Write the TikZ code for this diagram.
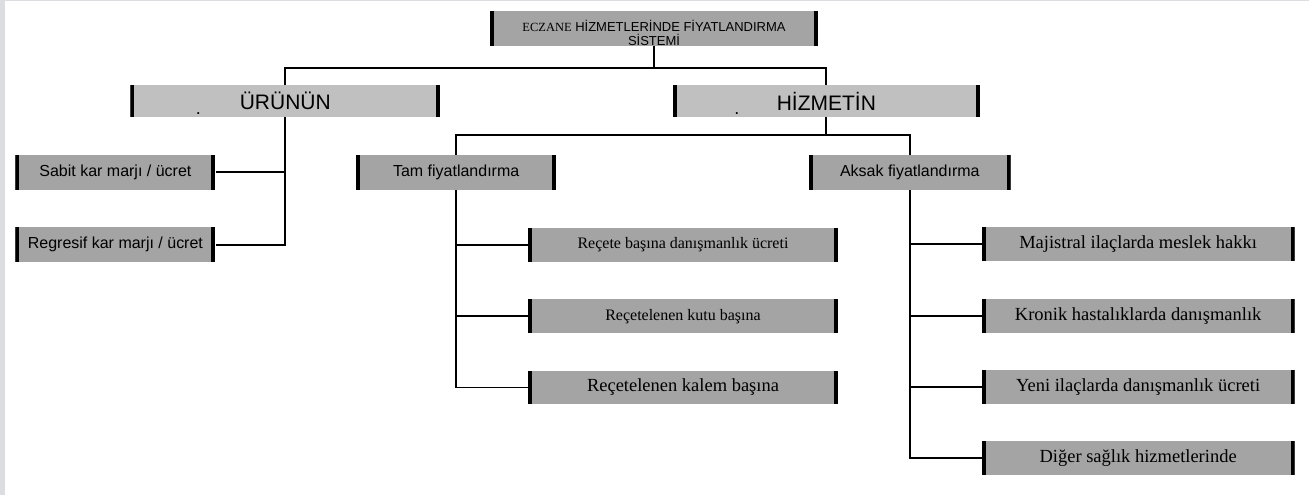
\documentclass[tikz,border=0pt]{standalone}
\usepackage{fontspec}
\setmainfont{Liberation Serif}
\setsansfont{Liberation Sans}
\usepackage{xcolor}
\usepackage{tikz}
\usetikzlibrary{positioning}

\definecolor{darkfill}{RGB}{164,164,164}
\definecolor{lightfill}{RGB}{192,192,192}
\definecolor{edgegray}{RGB}{220,221,224}

\begin{document}
\begin{tikzpicture}[
    x=1pt, y=-1pt,
    node distance=37pt and 0pt,
    box/.style={rectangle, fill=darkfill, inner sep=0pt, align=center, minimum height=34pt,
        path picture={
            \fill[black] (path picture bounding box.south west) rectangle ([xshift=4pt]path picture bounding box.north west);
            \fill[black] (path picture bounding box.south east) rectangle ([xshift=-4pt]path picture bounding box.north east);
        }},
    topbox/.style={box, minimum width=328pt, minimum height=33pt, font=\sffamily\fontsize{13}{14.5}\selectfont},
    levelbox/.style={box, fill=lightfill, minimum width=310pt, minimum height=32pt, font=\sffamily\fontsize{21}{24}\selectfont},
    sansbox/.style={box, minimum width=200pt, minimum height=35pt, font=\sffamily\fontsize{16}{18}\selectfont},
    serifbox/.style={box, minimum width=310pt, font=\rmfamily\fontsize{16}{18}\selectfont},
    bigserifbox/.style={serifbox, minimum width=313pt, font=\rmfamily\fontsize{18.5}{21}\selectfont},
    dotmark/.style={inner sep=0pt, font=\sffamily\fontsize{18}{18}\selectfont},
    line/.style={line width=1.8pt}
]

% page background and margins
\fill [white] (0,0) rectangle (1309,495);
\fill [edgegray] (0,0) rectangle (5,495);
\draw [edgegray, line width=1pt] (0,0.5) -- (1309,0.5);
\useasboundingbox (0,0) rectangle (1309,495);

\node (root) [topbox] at (654,28.5) {\rule{0pt}{20pt}{\rmfamily\fontsize{12.5}{14.5}\selectfont ECZANE} HİZMETLERİNDE FİYATLANDIRMA\\SİSTEMİ};

\node (urun) [levelbox] at (285,101) {ÜRÜNÜN};
\node (hizmet) [levelbox, minimum width=307pt] at (826.5,101) {HİZMETİN};
\node (urundot) [dotmark] at (198,113.5) {.};
\node (hizmetdot) [dotmark] at (737,113.5) {.};

\node (sabit) [sansbox] at (115,172.5) {Sabit kar marjı / ücret};
\node (regresif) [sansbox, below=of sabit] {Regresif kar marjı / ücret};

\node (tam) [sansbox] at (456,172.5) {Tam fiyatlandırma};
\node (aksak) [sansbox, minimum width=202pt] at (910,172.5) {Aksak fiyatlandırma};

\node (rec1) [serifbox] at (683,245) {Reçete başına danışmanlık ücreti};
\node (rec2) [serifbox, below=of rec1] {Reçetelenen kutu başına};
\node (rec3) [bigserifbox, minimum width=310pt, below=of rec2] {Reçetelenen kalem başına};

\node (majistral) [bigserifbox] at (1138.5,244.5) {Majistral ilaçlarda meslek hakkı};
\node (kronik) [bigserifbox, below=of majistral] {Kronik hastalıklarda danışmanlık};
\node (yeni) [bigserifbox, below=of kronik] {Yeni ilaçlarda danışmanlık ücreti};
\node (diger) [bigserifbox, below=of yeni] {Diğer sağlık hizmetlerinde};

\draw [line] (root.south) -- ++(0,22) -| (urun.north);
\draw [line] (root.south) -- ++(0,22) -| (hizmet.north);

\draw [line] (urun.south) |- (regresif.east);
\draw [line] (sabit.east) -- (sabit.east -| urun.south);

\draw [line] (hizmet.south) -- ++(0,18) -| (tam.north);
\draw [line] (hizmet.south) -- ++(0,18) -| (aksak.north);

\draw [line] (tam.south) |- (rec3.west);
\draw [line] (rec1.west) -- (rec1.west -| tam.south);
\draw [line] (rec2.west) -- (rec2.west -| tam.south);

\draw [line] (aksak.south) |- (diger.west);
\draw [line] (majistral.west) -- (majistral.west -| aksak.south);
\draw [line] (kronik.west) -- (kronik.west -| aksak.south);
\draw [line] (yeni.west) -- (yeni.west -| aksak.south);

\end{tikzpicture}
\end{document}
